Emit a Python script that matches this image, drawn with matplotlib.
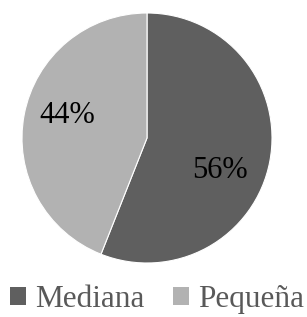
import matplotlib

matplotlib.use("Agg")
import matplotlib.pyplot as plt
from matplotlib.patches import Patch

# datos
labels = ["Mediana", "Pequeña"]
values = [56, 44]
colors = ["#5f5f5f", "#b2b2b2"]

plt.rcParams["font.family"] = "serif"
plt.rcParams["font.serif"] = ["Liberation Serif", "DejaVu Serif"]

fig = plt.figure(figsize=(3.07, 3.17), dpi=100)
ax = fig.add_axes([22 / 307, 54 / 317, 250 / 307, 250 / 317])

wedges, texts, autotexts = ax.pie(
    values, colors=colors, startangle=90, counterclock=False,
    autopct="%1.0f%%", pctdistance=0.64,
    wedgeprops=dict(edgecolor="white", linewidth=0.8),
    textprops=dict(fontsize=22, color="black"),
)
# posicion de etiquetas como en el original
autotexts[0].set_position((0.58, -0.26))
autotexts[1].set_position((-0.64, 0.18))

ax.set_xlim(-1, 1)
ax.set_ylim(-1, 1)
ax.set_aspect("equal")
ax.axis("off")

handles = [Patch(facecolor=c, edgecolor="none") for c in colors]
leg = fig.legend(handles, labels, loc="center", bbox_to_anchor=(0.512, 0.055),
                 ncol=2, frameon=False, fontsize=22.5,
                 handlelength=0.5, handleheight=0.5, handletextpad=0.3,
                 columnspacing=0.9, borderpad=0)
for t in leg.get_texts():
    t.set_color("#595959")

fig.savefig("out.png", dpi=100)
